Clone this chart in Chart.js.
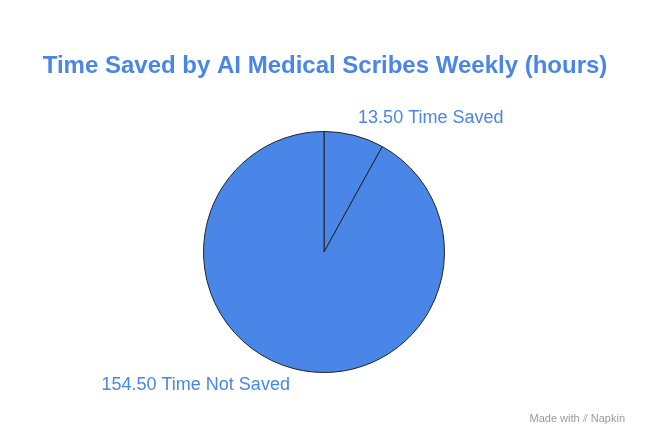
<!DOCTYPE html>
<html><head><meta charset="utf-8">
<script src="https://cdn.jsdelivr.net/npm/chart.js@4"></script>
<style>html,body{margin:0;padding:0;background:#fff}#w{width:648px;height:446px;position:relative}</style>
</head><body><div id="w"><canvas id="c"></canvas></div>
<script>
const categories = ["Time Saved", "Time Not Saved"];
const values = [13.5, 154.5];
const titleText = "Time Saved by AI Medical Scribes Weekly (hours)";
const blue = "#4a86e8";

const labelPlugin = {
  id: 'lbl',
  afterDraw(chart) {
    const ctx = chart.ctx;
    ctx.save();
    ctx.fillStyle = blue;
    ctx.font = 'bold 24px "Liberation Sans", Arial, sans-serif';
    ctx.textAlign = 'center'; ctx.textBaseline = 'middle';
    ctx.fillText(titleText, 325, 66);
    ctx.font = '18px "Liberation Sans", Arial, sans-serif';
    const arcs = chart.getDatasetMeta(0).data;
    arcs.forEach((a, i) => {
      const mid = (a.startAngle + a.endAngle) / 2;
      const x = a.x + Math.cos(mid) * a.outerRadius;
      const y = a.y + Math.sin(mid) * a.outerRadius;
      const right = Math.cos(mid) >= 0;
      ctx.textAlign = right ? 'left' : 'right';
      const up = Math.sin(mid) < 0;
      ctx.fillText(values[i].toFixed(2) + ' ' + categories[i], x + (right ? 4 : -4), y + (up ? -17 : 16));
    });
    ctx.fillStyle = '#9a9a9a';
    ctx.font = '11px "Liberation Sans", Arial, sans-serif';
    ctx.textAlign = 'right';
    ctx.fillText('Made with ⫽ Napkin', 625, 419);
    ctx.restore();
  }
};

new Chart(document.getElementById('c'), {
  type: 'pie',
  data: { labels: categories, datasets: [{ data: values, backgroundColor: blue, borderColor: '#222', borderWidth: 1 }] },
  options: {
    responsive: true, maintainAspectRatio: false, animation: false,
    layout: { padding: { top: 131, bottom: 73, left: 0, right: 0 } },
    plugins: { legend: { display: false }, tooltip: { enabled: false }, title: { display: false } }
  },
  plugins: [labelPlugin]
});
</script></body></html>
